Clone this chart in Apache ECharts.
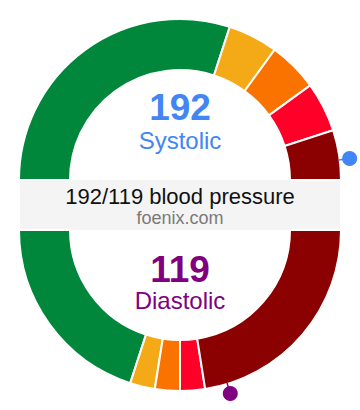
<!DOCTYPE html>
<html>
<head>
<meta charset="utf-8">
<script src="https://cdn.jsdelivr.net/npm/echarts@6/dist/echarts.min.js"></script>
<style>
html,body{margin:0;padding:0;background:#fff;}
#chart{width:360px;height:410px;}
</style>
</head>
<body>
<div id="chart"></div>
<script>
// ---- data ----
const categories = ['Normal', 'Elevated', 'Stage 1', 'Stage 2', 'Crisis'];
const scaleMax = 200;
const systolicSegments = [120, 20, 20, 20, 20];   // 0-120, 120-140, 140-160, 160-180, 180-200
const diastolicSegments = [80, 10, 10, 10, 90];   // 0-80, 80-90, 90-100, 100-110, 110-200
const segmentColors = ['#00873b', '#f4aa16', '#fa7300', '#ff0028', '#8b0000'];
const systolicValue = 192;
const diastolicValue = 119;
const titleText = '192/119 blood pressure';
const siteText = 'foenix.com';
const systolicLabel = 'Systolic';
const diastolicLabel = 'Diastolic';

// ---- layout ----
const cx = 180, topCy = 180, botCy = 230;
const rIn = 110, rOut = 161, rDot = 171;

function pieData(values) {
  const d = values.map((v, i) => ({
    name: categories[i], value: v,
    itemStyle: { color: segmentColors[i], borderColor: '#fff', borderWidth: 2 }
  }));
  d.push({ name: 'filler', value: scaleMax,
    itemStyle: { color: 'rgba(0,0,0,0)', borderWidth: 0 } });
  return d;
}

const chart = echarts.init(document.getElementById('chart'), null, { renderer: 'svg' });

const fontFam = 'Liberation Sans, Arial, Helvetica, sans-serif';

chart.setOption({
  animation: false,
  polar: [
    { center: [cx, topCy], radius: rDot },
    { center: [cx, botCy], radius: rDot }
  ],
  angleAxis: [
    { polarIndex: 0, type: 'value', min: 0, max: scaleMax * 2, startAngle: 180, clockwise: true, show: false },
    { polarIndex: 1, type: 'value', min: 0, max: scaleMax * 2, startAngle: 180, clockwise: false, show: false }
  ],
  radiusAxis: [
    { polarIndex: 0, type: 'value', min: 0, max: rDot, show: false },
    { polarIndex: 1, type: 'value', min: 0, max: rDot, show: false }
  ],
  graphic: [
    { type: 'rect', z: 0, shape: { x: 20, y: 180, width: 320, height: 50 }, style: { fill: '#f4f4f4' } },
    { type: 'text', z: 10, x: cx, y: 196, style: { text: titleText, fill: '#111', font: '22px ' + fontFam, textAlign: 'center', textVerticalAlign: 'middle' } },
    { type: 'text', z: 10, x: cx, y: 218, style: { text: siteText, fill: '#7a7a7a', font: '18px ' + fontFam, textAlign: 'center', textVerticalAlign: 'middle' } },
    { type: 'text', z: 10, x: cx, y: 107, style: { text: String(systolicValue), fill: '#4285f4', font: 'bold 37px ' + fontFam, textAlign: 'center', textVerticalAlign: 'middle' } },
    { type: 'text', z: 10, x: cx, y: 140, style: { text: systolicLabel, fill: '#4285f4', font: '24px ' + fontFam, textAlign: 'center', textVerticalAlign: 'middle' } },
    { type: 'text', z: 10, x: cx, y: 269, style: { text: String(diastolicValue), fill: '#800080', font: 'bold 37px ' + fontFam, textAlign: 'center', textVerticalAlign: 'middle' } },
    { type: 'text', z: 10, x: cx, y: 300, style: { text: diastolicLabel, fill: '#800080', font: '24px ' + fontFam, textAlign: 'center', textVerticalAlign: 'middle' } }
  ],
  series: [
    {
      type: 'pie', center: [cx, topCy], radius: [rIn, rOut], startAngle: 180, clockwise: true,
      label: { show: false }, labelLine: { show: false }, silent: true, emphasis: { disabled: true },
      data: pieData(systolicSegments)
    },
    {
      type: 'pie', center: [cx, botCy], radius: [rIn, rOut], startAngle: 180, clockwise: false,
      label: { show: false }, labelLine: { show: false }, silent: true, emphasis: { disabled: true },
      data: pieData(diastolicSegments)
    },
    {
      type: 'line', coordinateSystem: 'polar', polarIndex: 0, symbol: 'none', silent: true,
      lineStyle: { color: '#4285f4', width: 1.5 },
      data: [[rOut - 1, systolicValue], [rDot - 4, systolicValue]]
    },
    {
      type: 'scatter', coordinateSystem: 'polar', polarIndex: 0, symbolSize: 15, silent: true,
      itemStyle: { color: '#4285f4', opacity: 1 },
      data: [[rDot, systolicValue]]
    },
    {
      type: 'line', coordinateSystem: 'polar', polarIndex: 1, symbol: 'none', silent: true,
      lineStyle: { color: '#800080', width: 1.5 },
      data: [[rOut - 1, diastolicValue], [rDot - 4, diastolicValue]]
    },
    {
      type: 'scatter', coordinateSystem: 'polar', polarIndex: 1, symbolSize: 15, silent: true,
      itemStyle: { color: '#800080', opacity: 1 },
      data: [[rDot, diastolicValue]]
    }
  ]
});
</script>
</body>
</html>
